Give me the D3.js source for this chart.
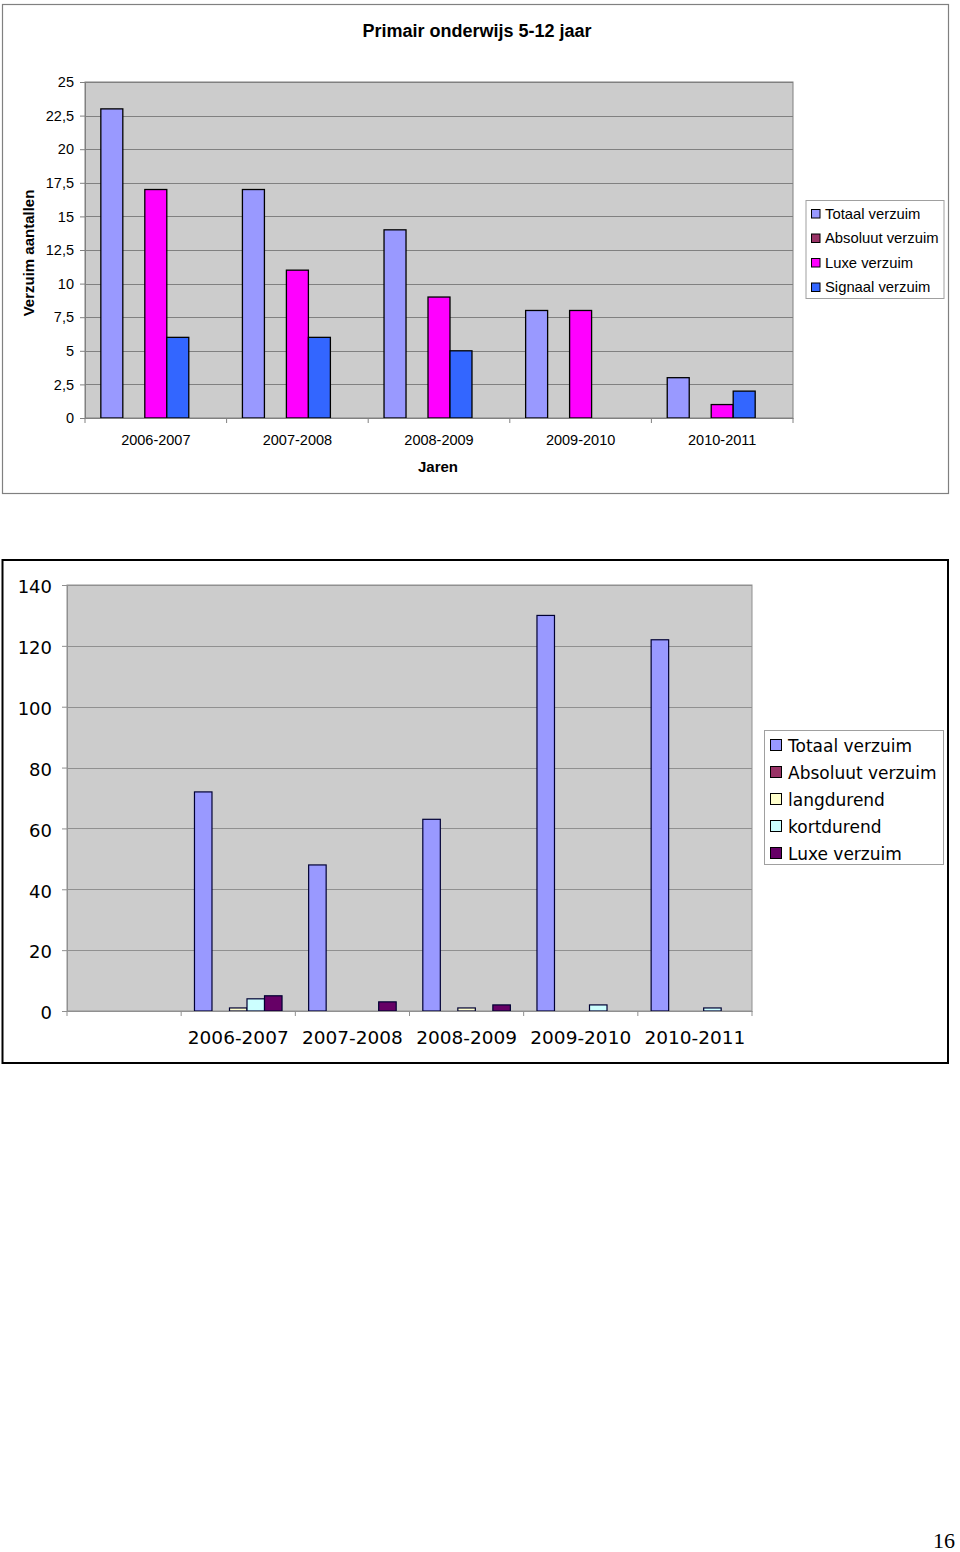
<!DOCTYPE html>
<html>
<head>
<meta charset="utf-8">
<script src="https://cdn.jsdelivr.net/npm/d3@7/dist/d3.min.js"></script>
<style>
  html, body { margin: 0; padding: 0; background: #fff; }
  svg { display: block; }
</style>
</head>
<body>
<svg id="page" width="960" height="1552"></svg>
<script>
// ---------- DATA: chart 1 ----------
const title1 = "Primair onderwijs 5-12 jaar";
const categories1 = ["2006-2007", "2007-2008", "2008-2009", "2009-2010", "2010-2011"];
const series1 = ["Totaal verzuim", "Absoluut verzuim", "Luxe verzuim", "Signaal verzuim"];
const totaal1   = [23, 17, 14, 8, 3];
const absoluut1 = [0, 0, 0, 0, 0];
const luxe1     = [17, 11, 9, 8, 1];
const signaal1  = [6, 6, 5, 0, 2];
const yTicks1 = [0, 2.5, 5, 7.5, 10, 12.5, 15, 17.5, 20, 22.5, 25];
const colors1 = ["#9999ff", "#993366", "#ff00ff", "#3366ff"];

// ---------- DATA: chart 2 ----------
const categories2 = ["", "2006-2007", "2007-2008", "2008-2009", "2009-2010", "2010-2011"];
const series2 = ["Totaal verzuim", "Absoluut verzuim", "langdurend", "kortdurend", "Luxe verzuim"];
const totaal2     = [0, 72, 48, 63, 130, 122];
const absoluut2   = [0, 0, 0, 0, 0, 0];
const langdurend2 = [0, 1, 0, 1, 0, 0];
const kortdurend2 = [0, 4, 0, 0, 2, 1];
const luxe2       = [0, 5, 3, 2, 0, 0];
const yTicks2 = [0, 20, 40, 60, 80, 100, 120, 140];
const colors2 = ["#9999ff", "#993366", "#ffffcc", "#ccffff", "#660066"];

const svg = d3.select("#page");

// ================= CHART 1 =================
(function () {
  const values = [totaal1, absoluut1, luxe1, signaal1];
  const F = "'Liberation Sans', Arial, sans-serif";
  const g = svg.append("g");
  g.append("rect").attr("x", 2.5).attr("y", 4.5).attr("width", 946).attr("height", 489)
    .attr("fill", "#fff").attr("stroke", "#808080").attr("stroke-width", 1.2);

  const L = 85, R = 793, T = 82, B = 418;
  const x0 = d3.scaleBand().domain(categories1).range([L, R]).paddingInner(0).paddingOuter(0);
  const slots = [...series1, "_leeg"];
  const x1 = d3.scaleBand().domain(slots).range([0, x0.bandwidth()]).paddingInner(0).paddingOuter(0.72);
  const y = d3.scaleLinear().domain([0, 25]).range([B, T]);

  g.append("rect").attr("x", L).attr("y", T).attr("width", R - L).attr("height", B - T)
    .attr("fill", "#cccccc").attr("stroke", "#808080").attr("stroke-width", 1);

  g.append("g").selectAll("line").data(yTicks1.filter(d => d > 0)).join("line")
    .attr("x1", L).attr("x2", R).attr("y1", d => Math.round(y(d)) + 0.5).attr("y2", d => Math.round(y(d)) + 0.5)
    .attr("stroke", "#808080").attr("stroke-width", 1);

  series1.forEach((s, si) => {
    g.append("g").selectAll("rect").data(categories1.map((c, i) => ({ c, v: values[si][i] })).filter(d => d.v > 0))
      .join("rect")
      .attr("x", d => x0(d.c) + x1(s))
      .attr("y", d => y(d.v))
      .attr("width", x1.bandwidth())
      .attr("height", d => B - y(d.v))
      .attr("fill", colors1[si]).attr("stroke", "#000").attr("stroke-width", 1.3);
  });

  const yAxis = d3.axisLeft(y).tickValues(yTicks1).tickSize(5).tickPadding(6)
    .tickFormat(d => String(d).replace(".", ","));
  const ya = g.append("g").attr("transform", `translate(${L},0)`).call(yAxis);
  ya.select(".domain").attr("stroke", "#808080");
  ya.selectAll(".tick line").attr("stroke", "#808080");
  ya.selectAll("text").attr("font-family", F).attr("font-size", 14.5).attr("fill", "#000");

  const xAxis = d3.axisBottom(x0).tickSize(0).tickPadding(17);
  const xa = g.append("g").attr("transform", `translate(0,${B})`).call(xAxis);
  xa.select(".domain").attr("stroke", "#808080");
  xa.selectAll("text").attr("font-family", F).attr("font-size", 14.5).attr("fill", "#000");
  g.append("g").selectAll("line").data(categories1.concat(["_end"])).join("line")
    .attr("x1", (d, i) => L + i * x0.step()).attr("x2", (d, i) => L + i * x0.step())
    .attr("y1", B).attr("y2", B + 5).attr("stroke", "#808080");

  g.append("text").attr("x", 477).attr("y", 37).attr("text-anchor", "middle")
    .attr("font-family", F).attr("font-weight", "bold").attr("font-size", 18).text(title1);
  g.append("text").attr("transform", "translate(34,253) rotate(-90)").attr("text-anchor", "middle")
    .attr("font-family", F).attr("font-weight", "bold").attr("font-size", 15).text("Verzuim aantallen");
  g.append("text").attr("x", 438).attr("y", 472).attr("text-anchor", "middle")
    .attr("font-family", F).attr("font-weight", "bold").attr("font-size", 15).text("Jaren");

  const lg = g.append("g");
  lg.append("rect").attr("x", 806).attr("y", 200.5).attr("width", 138).attr("height", 98)
    .attr("fill", "#fff").attr("stroke", "#a0a0a0");
  series1.forEach((s, i) => {
    const yy = 209 + i * 24.5;
    lg.append("rect").attr("x", 811.5).attr("y", yy + 0.5).attr("width", 8.5).attr("height", 8.5)
      .attr("fill", colors1[i]).attr("stroke", "#000");
    lg.append("text").attr("x", 825).attr("y", yy + 9.5).attr("font-family", F).attr("font-size", 14.8).text(s);
  });
})();

// ================= CHART 2 =================
(function () {
  const values = [totaal2, absoluut2, langdurend2, kortdurend2, luxe2];
  const F = "'DejaVu Sans', Verdana, sans-serif";
  const g = svg.append("g");
  g.append("rect").attr("x", 2.5).attr("y", 560).attr("width", 945.5).attr("height", 503)
    .attr("fill", "#fff").attr("stroke", "#000").attr("stroke-width", 2);

  const L = 67, R = 752, T = 585, B = 1011;
  const x0 = d3.scaleBand().domain(categories2).range([L, R]).paddingInner(0).paddingOuter(0);
  const x1 = d3.scaleBand().domain(series2).range([0, x0.bandwidth()]).paddingInner(0).paddingOuter(0.76);
  const y = d3.scaleLinear().domain([0, 140]).range([B, T]);

  g.append("rect").attr("x", L).attr("y", T).attr("width", R - L).attr("height", B - T)
    .attr("fill", "#cccccc").attr("stroke", "#909090").attr("stroke-width", 1);

  g.append("g").selectAll("line").data(yTicks2.filter(d => d > 0)).join("line")
    .attr("x1", L).attr("x2", R).attr("y1", d => Math.round(y(d)) + 0.5).attr("y2", d => Math.round(y(d)) + 0.5)
    .attr("stroke", "#909090").attr("stroke-width", 1);

  series2.forEach((s, si) => {
    g.append("g").selectAll("rect").data(categories2.map((c, i) => ({ c, v: values[si][i] })).filter(d => d.v > 0))
      .join("rect")
      .attr("x", d => x0(d.c) + x1(s))
      .attr("y", d => y(d.v))
      .attr("width", x1.bandwidth())
      .attr("height", d => B - y(d.v))
      .attr("fill", colors2[si]).attr("stroke", "#000033").attr("stroke-width", 1.2);
  });

  const yAxis = d3.axisLeft(y).tickValues(yTicks2).tickSize(5).tickPadding(10);
  const ya = g.append("g").attr("transform", `translate(${L},2)`).call(yAxis);
  ya.select(".domain").attr("stroke", "#909090").attr("transform", "translate(0,-2)");
  ya.selectAll(".tick line").attr("stroke", "#909090").attr("transform", "translate(0,-2)");
  ya.selectAll("text").attr("font-family", F).attr("font-size", 18).attr("fill", "#000");

  const xAxis = d3.axisBottom(x0).tickSize(0).tickPadding(20);
  const xa = g.append("g").attr("transform", `translate(0,${B})`).call(xAxis);
  xa.select(".domain").attr("stroke", "#909090");
  xa.selectAll("text").attr("font-family", F).attr("font-size", 18.5).attr("fill", "#000");
  g.append("g").selectAll("line").data(categories2.concat(["_end"])).join("line")
    .attr("x1", (d, i) => L + i * x0.step()).attr("x2", (d, i) => L + i * x0.step())
    .attr("y1", B).attr("y2", B + 5).attr("stroke", "#909090");

  const lg = g.append("g");
  lg.append("rect").attr("x", 764.5).attr("y", 730.5).attr("width", 179).attr("height", 134)
    .attr("fill", "#fff").attr("stroke", "#a0a0a0");
  series2.forEach((s, i) => {
    const yy = 739 + i * 27;
    lg.append("rect").attr("x", 770.5).attr("y", yy + 0.5).attr("width", 11).attr("height", 11)
      .attr("fill", colors2[i]).attr("stroke", "#000");
    lg.append("text").attr("x", 788).attr("y", yy + 12.5).attr("font-family", F).attr("font-size", 17).text(s);
  });
})();

svg.append("text").attr("x", 955).attr("y", 1548).attr("text-anchor", "end")
  .attr("font-family", "'Liberation Serif', 'Times New Roman', serif").attr("font-size", 22).text("16");
</script>
</body>
</html>
